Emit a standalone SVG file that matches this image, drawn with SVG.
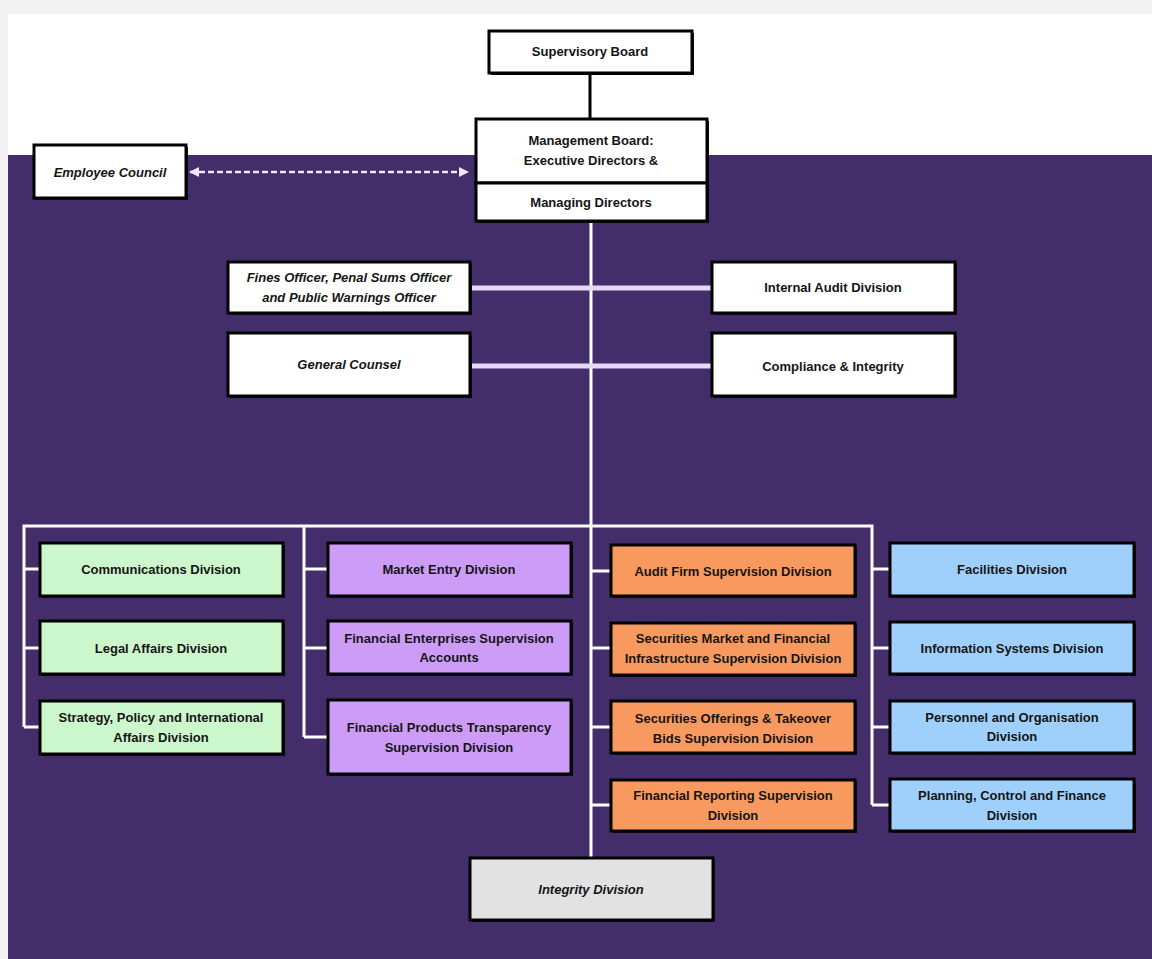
<svg xmlns="http://www.w3.org/2000/svg" width="1152" height="959" viewBox="0 0 1152 959">
<defs>
<style>
.box{stroke:#000;stroke-width:3}
.sh{fill:#111}
.w{fill:#ffffff}
.g{fill:#ccf7cc}
.p{fill:#cc9cf7}
.o{fill:#f89a5f}
.b{fill:#9fd0fb}
.gr{fill:#e2e2e2}
text{font-family:"Liberation Sans",Arial,sans-serif;font-size:13px;font-weight:bold;fill:#151515;text-anchor:middle}
.it{font-style:italic}
.wl{stroke:#ffffff;stroke-width:3;fill:none}
.lav{stroke:#e4d9f6;stroke-width:5;fill:none}
</style>
<marker id="ah" viewBox="0 0 10 10" refX="9" refY="5" markerWidth="4" markerHeight="4" orient="auto-start-reverse">
<path d="M0,0 L10,5 L0,10 z" fill="#eee8f8"/>
</marker>
</defs>
<rect x="0" y="0" width="1152" height="959" fill="#f2f2f2"/>
<rect x="8" y="14" width="1144" height="945" fill="#ffffff"/>
<rect x="8" y="155" width="1144" height="804" fill="#432d6a"/>

<g id="connectors">
<line x1="590" y1="73" x2="590" y2="119" stroke="#000" stroke-width="3"/>
<line x1="591" y1="221" x2="591" y2="858" class="wl"/>
<line x1="190" y1="172" x2="468" y2="172" stroke="#eee8f8" stroke-width="2.5" stroke-dasharray="6 3" marker-start="url(#ah)" marker-end="url(#ah)"/>
<line x1="470" y1="288" x2="712" y2="288" class="lav"/>
<line x1="470" y1="366" x2="712" y2="366" class="lav"/>
<path d="M24,727 V526 H872 V805" class="wl"/>
<line x1="304" y1="526" x2="304" y2="737" class="wl"/>
<path d="M24,569 H40 M24,648 H40 M24,727 H40" class="wl"/>
<path d="M304,569 H328 M304,648 H328 M304,737 H328" class="wl"/>
<path d="M591,571 H611 M591,648 H611 M591,727 H611 M591,805 H611" class="wl"/>
<path d="M872,569 H890 M872,648 H890 M872,727 H890 M872,805 H890" class="wl"/>
</g>

<g id="supervisory-board">
<rect x="491" y="33" width="203" height="42" class="sh"/>
<rect x="489" y="31" width="203" height="42" class="box w"/>
<text x="590" y="56">Supervisory Board</text>
</g>
<g id="management-board">
<rect x="478" y="121" width="231" height="102" class="sh"/>
<rect x="476" y="119" width="231" height="64" class="box w"/>
<rect x="476" y="183" width="231" height="38" class="box w"/>
<text x="591" y="145">Management Board:</text>
<text x="591" y="165">Executive Directors &amp;</text>
<text x="591" y="207">Managing Directors</text>
</g>
<g id="employee-council">
<rect x="36" y="147" width="152" height="53" class="sh"/>
<rect x="34" y="145" width="152" height="53" class="box w"/>
<text x="110" y="177" class="it">Employee Council</text>
</g>
<g id="fines-officer">
<rect x="230" y="264" width="242" height="51" class="sh"/>
<rect x="228" y="262" width="242" height="51" class="box w"/>
<text x="349" y="282" class="it">Fines Officer, Penal Sums Officer</text>
<text x="349" y="302" class="it">and Public Warnings Officer</text>
</g>
<g id="internal-audit">
<rect x="714" y="264" width="243" height="51" class="sh"/>
<rect x="712" y="262" width="243" height="51" class="box w"/>
<text x="833" y="292">Internal Audit Division</text>
</g>
<g id="general-counsel">
<rect x="230" y="335" width="242" height="63" class="sh"/>
<rect x="228" y="333" width="242" height="63" class="box w"/>
<text x="349" y="369" class="it">General Counsel</text>
</g>
<g id="compliance">
<rect x="714" y="335" width="243" height="63" class="sh"/>
<rect x="712" y="333" width="243" height="63" class="box w"/>
<text x="833" y="371">Compliance &amp; Integrity</text>
</g>

<g id="communications">
<rect x="42" y="545" width="243" height="53" class="sh"/>
<rect x="40" y="543" width="243" height="53" class="box g"/>
<text x="161" y="574">Communications Division</text>
</g>
<g id="legal-affairs">
<rect x="42" y="623" width="243" height="53" class="sh"/>
<rect x="40" y="621" width="243" height="53" class="box g"/>
<text x="161" y="653">Legal Affairs Division</text>
</g>
<g id="strategy">
<rect x="42" y="703" width="243" height="53" class="sh"/>
<rect x="40" y="701" width="243" height="53" class="box g"/>
<text x="161" y="722">Strategy, Policy and International</text>
<text x="161" y="742">Affairs Division</text>
</g>

<g id="market-entry">
<rect x="330" y="545" width="243" height="53" class="sh"/>
<rect x="328" y="543" width="243" height="53" class="box p"/>
<text x="449" y="574">Market Entry Division</text>
</g>
<g id="fin-enterprises">
<rect x="330" y="623" width="243" height="53" class="sh"/>
<rect x="328" y="621" width="243" height="53" class="box p"/>
<text x="449" y="643">Financial Enterprises Supervision</text>
<text x="449" y="662">Accounts</text>
</g>
<g id="fin-products">
<rect x="330" y="702" width="243" height="74" class="sh"/>
<rect x="328" y="700" width="243" height="74" class="box p"/>
<text x="449" y="732">Financial Products Transparency</text>
<text x="449" y="752">Supervision Division</text>
</g>

<g id="audit-firm">
<rect x="613" y="547" width="244" height="51" class="sh"/>
<rect x="611" y="545" width="244" height="51" class="box o"/>
<text x="733" y="576">Audit Firm Supervision Division</text>
</g>
<g id="securities-market">
<rect x="613" y="625" width="244" height="52" class="sh"/>
<rect x="611" y="623" width="244" height="52" class="box o"/>
<text x="733" y="643">Securities Market and Financial</text>
<text x="733" y="663">Infrastructure Supervision Division</text>
</g>
<g id="securities-offerings">
<rect x="613" y="703" width="244" height="52" class="sh"/>
<rect x="611" y="701" width="244" height="52" class="box o"/>
<text x="733" y="723">Securities Offerings &amp; Takeover</text>
<text x="733" y="743">Bids Supervision Division</text>
</g>
<g id="financial-reporting">
<rect x="613" y="782" width="244" height="51" class="sh"/>
<rect x="611" y="780" width="244" height="51" class="box o"/>
<text x="733" y="800">Financial Reporting Supervision</text>
<text x="733" y="820">Division</text>
</g>

<g id="facilities">
<rect x="892" y="545" width="244" height="53" class="sh"/>
<rect x="890" y="543" width="244" height="53" class="box b"/>
<text x="1012" y="574">Facilities Division</text>
</g>
<g id="information-systems">
<rect x="892" y="624" width="244" height="52" class="sh"/>
<rect x="890" y="622" width="244" height="52" class="box b"/>
<text x="1012" y="653">Information Systems Division</text>
</g>
<g id="personnel">
<rect x="892" y="703" width="244" height="52" class="sh"/>
<rect x="890" y="701" width="244" height="52" class="box b"/>
<text x="1012" y="722">Personnel and Organisation</text>
<text x="1012" y="741">Division</text>
</g>
<g id="planning">
<rect x="892" y="781" width="244" height="52" class="sh"/>
<rect x="890" y="779" width="244" height="52" class="box b"/>
<text x="1012" y="800">Planning, Control and Finance</text>
<text x="1012" y="820">Division</text>
</g>

<g id="integrity-division">
<rect x="472" y="860" width="243" height="62" class="sh"/>
<rect x="470" y="858" width="243" height="62" class="box gr"/>
<text x="591" y="894" class="it">Integrity Division</text>
</g>
</svg>
